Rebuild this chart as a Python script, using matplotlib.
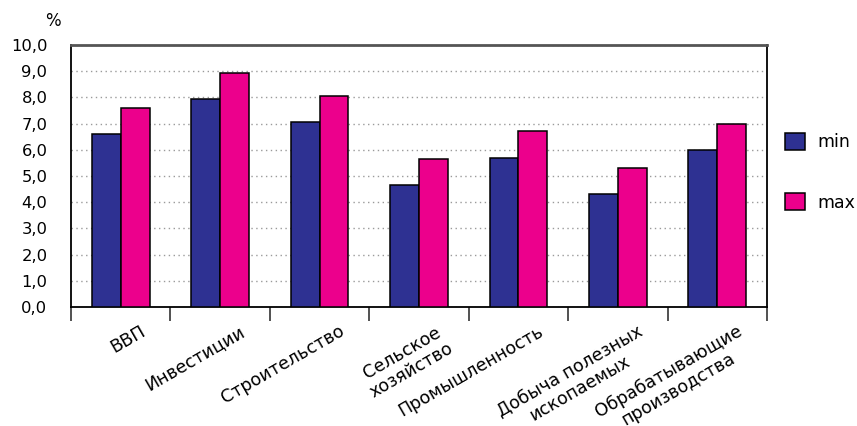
import numpy as np
import matplotlib
matplotlib.use("Agg")
import matplotlib.pyplot as plt
from matplotlib.transforms import ScaledTranslation

# Growth forecast ranges by sector, %
categories = ["ВВП", "Инвестиции", "Строительство", "Сельское\nхозяйство",
              "Промышленность", "Добыча полезных\nископаемых",
              "Обрабатывающие\nпроизводства"]
min_values = [6.6, 7.95, 7.05, 4.65, 5.7, 4.3, 6.0]
max_values = [7.6, 8.95, 8.05, 5.65, 6.7, 5.3, 7.0]
series_names = ["min", "max"]
y_ticks = [0, 1, 2, 3, 4, 5, 6, 7, 8, 9, 10]
y_tick_labels = ["0,0", "1,0", "2,0", "3,0", "4,0", "5,0",
                 "6,0", "7,0", "8,0", "9,0", "10,0"]

plt.rcParams["font.family"] = ["DejaVu Sans"]

fig = plt.figure(figsize=(8.57, 4.26), dpi=100)
ax = fig.add_axes([71 / 857, 1 - 307 / 426, 696 / 857, 262 / 426])

x = np.arange(len(categories))
w = 0.29
ax.bar(x - w / 2, min_values, w, color="#2E3192", edgecolor="black",
       linewidth=1.1, label=series_names[0], zorder=3)
ax.bar(x + w / 2, max_values, w, color="#EC008C", edgecolor="black",
       linewidth=1.1, label=series_names[1], zorder=3)

ax.set_xlim(-0.5, len(categories) - 0.5)
ax.set_ylim(0, 10)

# y axis: labels without ticks, short ticks only at the ends
ax.set_yticks(y_ticks)
ax.set_yticklabels(y_tick_labels, fontsize=11.8)
ax.tick_params(axis="y", which="major", length=0, pad=17)
ax.set_yticks([0, 10], minor=True)
ax.tick_params(axis="y", which="minor", length=11, width=1.2, color="#333333")

# dotted horizontal grid
ax.grid(axis="y", color="#9a9a9a", linestyle=(0, (1, 2.5)), linewidth=1)
ax.set_axisbelow(True)

# x axis: ticks at category boundaries, labels rotated
ax.set_xticks(np.arange(-0.5, len(categories), 1.0))
ax.set_xticklabels([])
ax.tick_params(axis="x", which="major", length=10, width=1.2, direction="out",
               color="#333333")
ax.set_xticks(x, minor=True)
ax.set_xticklabels(categories, minor=True, fontsize=12.6, rotation=30,
                   ha="right", va="top", rotation_mode="anchor",
                   multialignment="center", linespacing=1.1)
ax.tick_params(axis="x", which="minor", length=0, pad=11)
shift = ScaledTranslation(19 / 100, 0, fig.dpi_scale_trans)
for lbl in ax.get_xticklabels(minor=True):
    lbl.set_transform(lbl.get_transform() + shift)

for side in ("left", "bottom", "right"):
    ax.spines[side].set_color("black")
    ax.spines[side].set_linewidth(1.3)
ax.spines["top"].set_color("#555555")
ax.spines["top"].set_linewidth(2)

fig.text(52.5 / 857, 1 - 21.5 / 426, "%", fontsize=12, ha="center", va="center")

ax.legend(loc="upper left", bbox_to_anchor=(785 / 857, 1 - 133 / 426),
          bbox_transform=fig.transFigure, frameon=False, fontsize=12.5,
          handlelength=1.15, handleheight=1.15, labelspacing=2.4,
          handletextpad=0.7, borderpad=0, borderaxespad=0)

fig.savefig("out.png", dpi=100)
